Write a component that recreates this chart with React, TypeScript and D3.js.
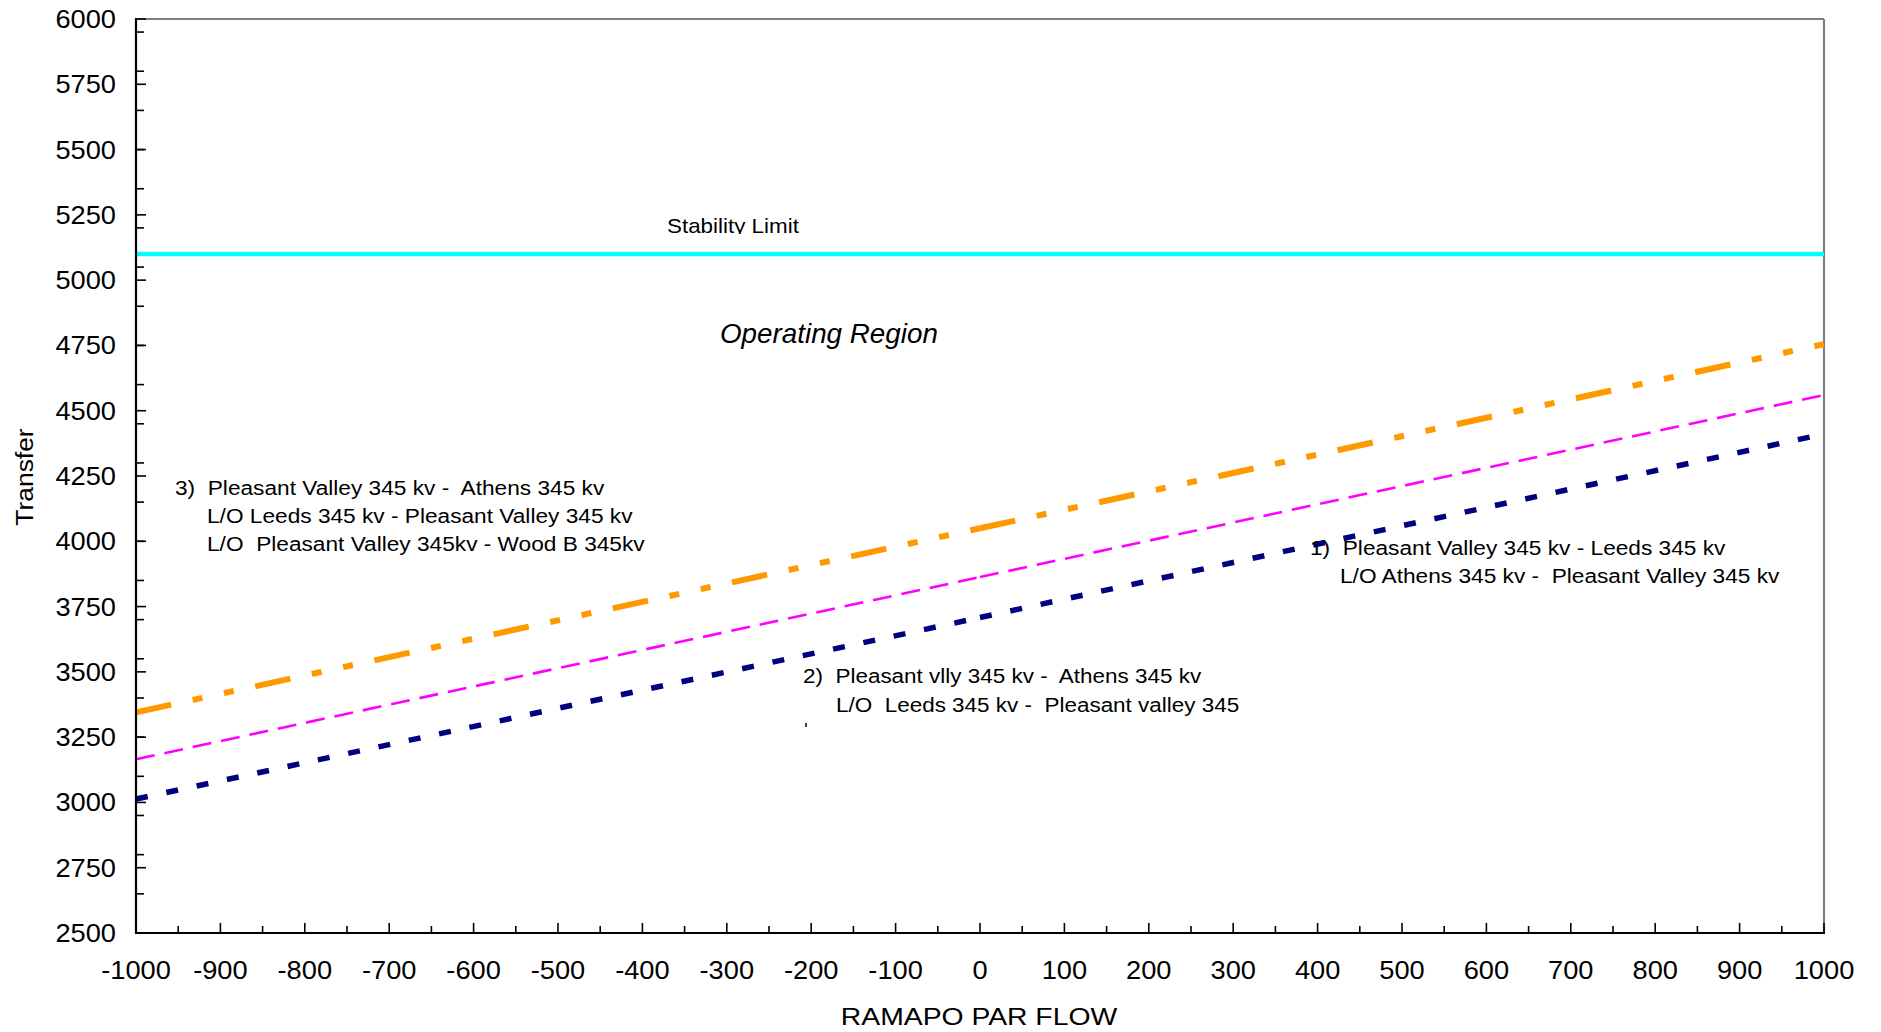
import React from "react";
import * as d3 from "d3";

// ---- data ----
const flows = [-1000, 0, 1000];
const series1Navy = [3013, 3708, 4411];
const series2Magenta = [3165, 3863, 4560];
const series3Orange = [3345, 4050, 4755];
const stabilityLimit = 5100;

const xMajorTicks = d3.range(-1000, 1001, 100);
const xMinorTicks = d3.range(-950, 1000, 100);
const yMajorTicks = d3.range(2500, 6001, 250);
const yMinorTicks = d3.range(2500, 6001, 150);

const annotation1 = ["1)  Pleasant Valley 345 kv - Leeds 345 kv", "L/O Athens 345 kv -  Pleasant Valley 345 kv"];
const annotation2 = ["2)  Pleasant vlly 345 kv -  Athens 345 kv", "L/O  Leeds 345 kv -  Pleasant valley 345"];
const annotation3 = [
  "3)  Pleasant Valley 345 kv -  Athens 345 kv",
  "L/O Leeds 345 kv - Pleasant Valley 345 kv",
  "L/O  Pleasant Valley 345kv - Wood B 345kv",
];

const FONT = "'Liberation Sans', Arial, Helvetica, sans-serif";

function SText(props: any) {
  const { x, y, size, sx = 1.1, anchor = "start", rotate = 0, italic = false, children, ...rest } = props;
  return (
    <text
      transform={`translate(${x},${y})${rotate ? ` rotate(${rotate})` : ""} scale(${sx},1)`}
      fontSize={size}
      fontFamily={FONT}
      fontStyle={italic ? "italic" : "normal"}
      textAnchor={anchor}
      fill="#000"
      style={{ whiteSpace: "pre" }}
      {...rest}
    >
      {children}
    </text>
  );
}

export default function App() {
  const W = 1881;
  const H = 1032;
  const x = d3.scaleLinear().domain([-1000, 1000]).range([136, 1824]);
  const y = d3.scaleLinear().domain([2500, 6000]).range([933, 19]);

  const line = d3
    .line<[number, number]>()
    .x((d) => x(d[0]))
    .y((d) => y(d[1]));

  const segs = (vals: number[]) => {
    const out: [number, number][][] = [];
    for (let i = 0; i < flows.length - 1; i++) {
      out.push([
        [flows[i], vals[i]],
        [flows[i + 1], vals[i + 1]],
      ]);
    }
    return out;
  };

  const seriesDefs = [
    { vals: series3Orange, color: "#FF9900", width: 6, dash: "36,22,10,22,10,22" },
    { vals: series2Magenta, color: "#FF00FF", width: 2.6, dash: "19,10" },
    { vals: series1Navy, color: "#000080", width: 5.5, dash: "12,19" },
  ];

  return (
    <svg
      width={W}
      height={H}
      viewBox={`0 0 ${W} ${H}`}
      style={{ position: "absolute", left: 0, top: 0, background: "#fff" }}
    >
      <defs>
        <clipPath id="stabClip">
          <rect x={600} y={180} width={200} height={54} />
        </clipPath>
      </defs>
      <rect x={0} y={0} width={W} height={H} fill="#fff" />

      {/* frame top and right (gray) */}
      <line x1={x(-1000)} x2={x(1000)} y1={y(6000)} y2={y(6000)} stroke="#808080" strokeWidth={2.2} />
      <line x1={x(1000)} x2={x(1000)} y1={y(6000)} y2={y(2500)} stroke="#808080" strokeWidth={2.2} />

      {/* stability limit */}
      <line
        x1={x(-1000)}
        x2={x(1000)}
        y1={y(stabilityLimit)}
        y2={y(stabilityLimit)}
        stroke="#00FFFF"
        strokeWidth={4.5}
      />

      {/* series */}
      {seriesDefs.map((s, si) =>
        segs(s.vals).map((seg, i) => (
          <path
            key={`${si}-${i}`}
            d={line(seg) || ""}
            fill="none"
            stroke={s.color}
            strokeWidth={s.width}
            strokeDasharray={s.dash}
            strokeLinecap="butt"
          />
        ))
      )}

      {/* y axis */}
      <line x1={x(-1000)} x2={x(-1000)} y1={y(6000) - 1} y2={y(2500) + 1} stroke="#000" strokeWidth={2.2} />
      {yMinorTicks.map((t) => (
        <line key={`ym${t}`} x1={x(-1000)} x2={x(-1000) + 8} y1={y(t)} y2={y(t)} stroke="#000" strokeWidth={1.6} />
      ))}
      {yMajorTicks.map((t) => (
        <line key={`yM${t}`} x1={x(-1000)} x2={x(-1000) + 10} y1={y(t)} y2={y(t)} stroke="#000" strokeWidth={1.6} />
      ))}
      {yMajorTicks.map((t) => (
        <SText key={`yl${t}`} x={116} y={y(t) + 9} size={25} sx={1.09} anchor="end">
          {String(t)}
        </SText>
      ))}

      {/* x axis */}
      <line x1={x(-1000) - 1} x2={x(1000) + 1} y1={y(2500)} y2={y(2500)} stroke="#000" strokeWidth={2.2} />
      {xMinorTicks.map((t) => (
        <line key={`xm${t}`} x1={x(t)} x2={x(t)} y1={y(2500)} y2={y(2500) - 7} stroke="#000" strokeWidth={1.6} />
      ))}
      {xMajorTicks.map((t) => (
        <line key={`xM${t}`} x1={x(t)} x2={x(t)} y1={y(2500)} y2={y(2500) - 10} stroke="#000" strokeWidth={1.6} />
      ))}
      {xMajorTicks.map((t) => (
        <SText key={`xl${t}`} x={x(t)} y={979} size={25} sx={1.09} anchor="middle">
          {String(t)}
        </SText>
      ))}

      {/* axis titles */}
      <SText x={33} y={477} size={24} sx={1.1} anchor="middle" rotate={-90}>
        Transfer
      </SText>
      <SText x={979} y={1025} size={24} sx={1.18} anchor="middle">
        RAMAPO PAR FLOW
      </SText>

      {/* labels */}
      <g clipPath="url(#stabClip)">
        <SText x={667} y={233} size={20} sx={1.12}>
          Stability Limit
        </SText>
      </g>
      <SText x={720} y={343} size={27} sx={1.03} italic>
        Operating Region
      </SText>

      {annotation3.map((t, i) => (
        <SText key={`a3${i}`} x={i === 0 ? 175 : 207} y={495 + i * 27.8} size={21} sx={1.08}>
          {t}
        </SText>
      ))}
      {annotation2.map((t, i) => (
        <SText key={`a2${i}`} x={i === 0 ? 803 : 836} y={683 + i * 29} size={21} sx={1.07}>
          {t}
        </SText>
      ))}
      <line x1={806} x2={806} y1={723} y2={727} stroke="#000" strokeWidth={1.5} />
      {annotation1.map((t, i) => (
        <SText key={`a1${i}`} x={i === 0 ? 1310 : 1340} y={555 + i * 28} size={21} sx={1.08}>
          {t}
        </SText>
      ))}
    </svg>
  );
}
